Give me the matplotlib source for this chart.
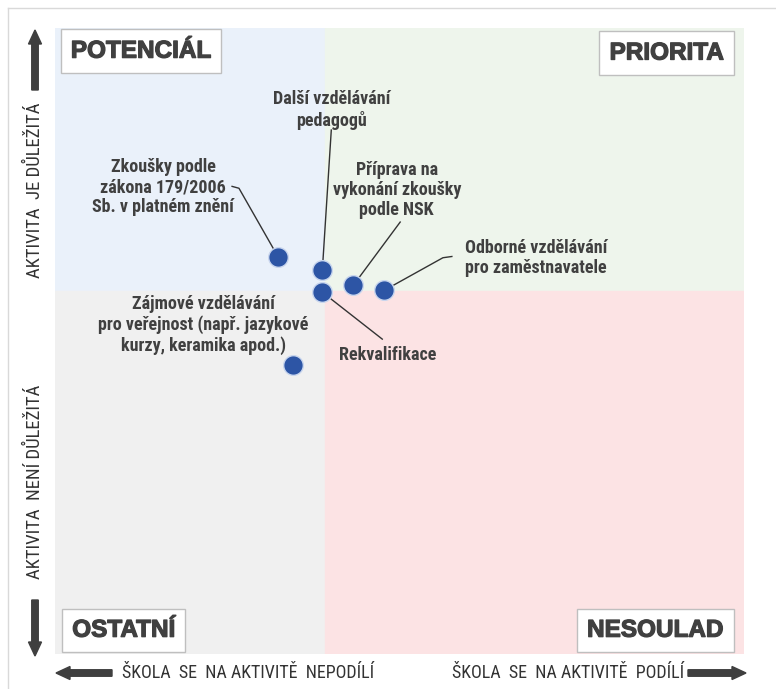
import matplotlib.pyplot as plt
from matplotlib import font_manager as fm
from matplotlib import patheffects as pe
from matplotlib.patches import FancyArrow, Rectangle
from matplotlib.lines import Line2D

# activity positions (0-100 scale, x = participation, y = importance)
activities = [
    "Zkoušky podle\nzákona 179/2006\nSb. v platném znění",
    "Další vzdělávání\npedagogů",
    "Rekvalifikace",
    "Příprava na\nvykonání zkoušky\npodle NSK",
    "Odborné vzdělávání\npro zaměstnavatele",
    "Zájmové vzdělávání\npro veřejnost (např. jazykové\nkurzy, keramika apod.)",
]
x_vals = [32.4, 38.8, 38.8, 43.3, 47.8, 34.5]
y_vals = [63.4, 61.3, 57.8, 58.9, 58.1, 46.2]

x_split = 39.2
y_split = 58.0

quadrants = ["POTENCIÁL", "PRIORITA", "OSTATNÍ", "NESOULAD"]
axis_texts = ["AKTIVITA  JE DŮLEŽITÁ", "AKTIVITA  NENÍ DŮLEŽITÁ",
              "ŠKOLA  SE  NA AKTIVITĚ  NEPODÍLÍ", "ŠKOLA  SE  NA AKTIVITĚ  PODÍLÍ"]

W, H = 776, 689
TXT = "#404040"

fonts = fm.fontManager.ttflist


def pick(cands, bold=False):
    for c in cands:
        for f in fonts:
            if f.name == c and (not bold or (isinstance(f.weight, int) and f.weight >= 700)
                                or f.weight == "bold"):
                return [c, "DejaVu Sans"]
    return ["DejaVu Sans"]


NARROW = pick(["Liberation Sans Narrow", "Roboto Condensed", "Fira Sans Condensed",
               "Barlow Semi Condensed", "Archivo Narrow"], bold=True)
ARIAL = pick(["Liberation Sans", "Arimo", "Roboto", "Open Sans", "Lato"], bold=True)

fig = plt.figure(figsize=(W / 100, H / 100), dpi=100)
fig.patch.set_facecolor("white")


def fx(px):
    return px / W


def fy(py):
    return 1 - py / H


ax = fig.add_axes([fx(55), fy(654), (744 - 55) / W, (654 - 28) / H])
ax.set_xlim(0, 100)
ax.set_ylim(0, 100)
ax.axis("off")

# quadrant backgrounds
ax.add_patch(Rectangle((0, y_split), x_split, 100 - y_split, color="#EAF1FA", zorder=0))
ax.add_patch(Rectangle((x_split, y_split), 100 - x_split, 100 - y_split, color="#EEF5EC", zorder=0))
ax.add_patch(Rectangle((0, 0), x_split, y_split, color="#F0F0F0", zorder=0))
ax.add_patch(Rectangle((x_split, 0), 100 - x_split, y_split, color="#FCE3E4", zorder=0))

# points
ax.scatter(x_vals, y_vals, s=200, color="#2D55A5", edgecolor="#C9D6EE", linewidth=1.0, zorder=5)

# labels with leader lines
lab_font = dict(family=NARROW, fontsize=13, fontweight="bold", color=TXT, linespacing=1.15)
ax.text(40.2, 86.9, activities[1], ha="center", va="center", **lab_font)
ax.plot([40.1, x_vals[1]], [83.7, y_vals[1]], color="#333333", lw=1, zorder=4)

ax.text(15.7, 74.6, activities[0], ha="center", va="center", **lab_font)
ax.plot([25.7, 26.7, x_vals[0]], [74.7, 74.4, y_vals[0]], color="#333333", lw=1, zorder=4)

ax.text(49.6, 74.1, activities[3], ha="center", va="center", **lab_font)
ax.plot([50.1, x_vals[3]], [69.0, y_vals[3]], color="#333333", lw=1, zorder=4)

ax.text(59.5, 63.3, activities[4], ha="left", va="center", **lab_font)
ax.plot([57.6, 56.3, x_vals[4]], [63.5, 63.3, y_vals[4]], color="#333333", lw=1, zorder=4)

ax.text(21.5, 52.6, activities[5], ha="center", va="center", **lab_font)

ax.text(48.3, 47.8, activities[2], ha="center", va="center", **lab_font)
ax.plot([x_vals[2], 47.5], [y_vals[2], 50.3], color="#333333", lw=1, zorder=4)

# quadrant title boxes
box = dict(boxstyle="square,pad=0.42", facecolor="white", edgecolor="#BFBFBF", linewidth=1)
title_font = dict(family=ARIAL, fontsize=17.5, fontweight="bold", color=TXT,
                  path_effects=[pe.withStroke(linewidth=0.9, foreground=TXT)])
ax.text(2.3, 96.3, quadrants[0], ha="left", va="center", bbox=box, **title_font)
ax.text(97.0, 96.0, quadrants[1], ha="right", va="center", bbox=box, **title_font)
ax.text(2.5, 3.8, quadrants[2], ha="left", va="center", bbox=box, **title_font)
ax.text(97.0, 3.8, quadrants[3], ha="right", va="center", bbox=box, **title_font)

# outer frame lines
fig.add_artist(Line2D([fx(8), 1], [fy(8), fy(8)], color="#D9D9D9", lw=1))
fig.add_artist(Line2D([fx(8), fx(8)], [fy(8), 0], color="#D9D9D9", lw=1))

# axis descriptions
ax_font = dict(family=NARROW, fontsize=13.5, color="#333333")
fig.text(fx(35), fy(190), axis_texts[0], rotation=90, ha="center", va="center", **ax_font)
fig.text(fx(35), fy(482), axis_texts[1], rotation=90, ha="center", va="center", **ax_font)
ax_font["fontsize"] = 13
fig.text(fx(122), fy(673), axis_texts[2], ha="left", va="center", **ax_font)
fig.text(fx(684), fy(673), axis_texts[3], ha="right", va="center", **ax_font)


def arrow(x0, y0, x1, y1):
    fig.add_artist(FancyArrow(x0 / 100, (H - y0) / 100, (x1 - x0) / 100, -(y1 - y0) / 100,
                              width=0.065, head_width=0.13, head_length=0.14,
                              length_includes_head=True, color="#3F3F3F",
                              transform=fig.dpi_scale_trans))


arrow(35, 90, 35, 30)
arrow(35, 600, 35, 656)
arrow(112, 673, 56, 673)
arrow(688, 673, 746, 673)

fig.savefig("out.png", dpi=100)
